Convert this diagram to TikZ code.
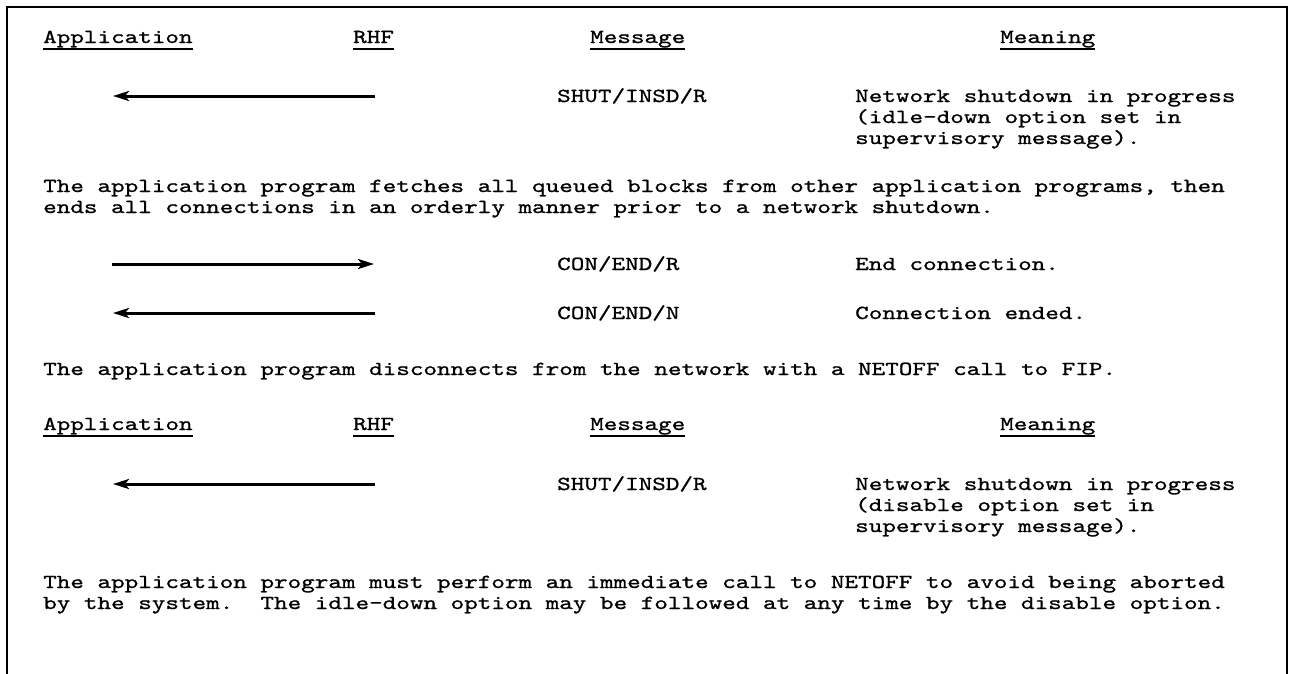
\documentclass[tikz,border=0pt]{standalone}
\usepackage{fontspec}
\usetikzlibrary{arrows.meta}
\newfontfamily\typewriter{lmmono10-regular.otf}[FakeStretch=1.3, FakeBold=1]
\newcommand\tw{\typewriter\fontsize{19.9pt}{21pt}\selectfont\frenchspacing}

\tikzstyle{frame} = [line width=2.4pt, line cap=rect]
% multi-line nodes sit on the baseline of their last line
\tikzstyle{txt} = [anchor=base west, inner sep=0pt, align=left, font=\tw]
\tikzstyle{uline} = [line width=1.8pt]
\tikzstyle{flow} = [line width=3pt, -{Stealth[length=16pt, width=10pt, inset=4pt]}]

\begin{document}
\begin{tikzpicture}[x=1pt,y=-1pt]
		\useasboundingbox (0,0) rectangle (1295,673);
		% open frame, no bottom edge
		\draw[frame] (7,673) -- (7,7) -- (1287,7) -- (1287,673);

		% column heads
		\node[txt] (app1) at (43,43) {Application};
		\node[txt] (rhf1) at (353,43) {RHF};
		\node[txt] (msg1) at (590,43) {Message};
		\node[txt] (mng1) at (1000,43) {Meaning};
		\draw[uline] ([yshift=-6pt]app1.base west) -- ([yshift=-6pt]app1.base east);
		\draw[uline] ([yshift=-6pt]rhf1.base west) -- ([yshift=-6pt]rhf1.base east);
		\draw[uline] ([yshift=-6pt]msg1.base west) -- ([yshift=-6pt]msg1.base east);
		\draw[uline] ([yshift=-6pt]mng1.base west) -- ([yshift=-6pt]mng1.base east);

		% idle-down shutdown
		\coordinate (rhf-a) at (375,96);
		\coordinate (app-a) at (113,96);
		\draw[flow] (rhf-a) -- (app-a);
		\node[txt] (shut1) at (557,102) {SHUT/INSD/R};
		\node[txt] (net1) at (855,144) {Network shutdown in progress\\(idle-down option set in\\supervisory message).};

		\node[txt] (para1) at (43,213) {The application program fetches all queued blocks from other application programs, then\\ends all connections in an orderly manner prior to a network shutdown.};

		% end connection
		\coordinate (app-b) at (112,264);
		\coordinate (rhf-b) at (374,264);
		\draw[flow] (app-b) -- (rhf-b);
		\node[txt] (conr) at (557,270) {CON/END/R};
		\node[txt] (endc) at (855,270) {End connection.};

		\coordinate (rhf-c) at (375,313);
		\coordinate (app-c) at (113,313);
		\draw[flow] (rhf-c) -- (app-c);
		\node[txt] (conn) at (557,319) {CON/END/N};
		\node[txt] (ended) at (855,319) {Connection ended.};

		\node[txt] (para2) at (43,375) {The application program disconnects from the network with a NETOFF call to FIP.};

		% second table
		\node[txt] (app2) at (43,430) {Application};
		\node[txt] (rhf2) at (353,430) {RHF};
		\node[txt] (msg2) at (590,430) {Message};
		\node[txt] (mng2) at (1000,430) {Meaning};
		\draw[uline] ([yshift=-6pt]app2.base west) -- ([yshift=-6pt]app2.base east);
		\draw[uline] ([yshift=-6pt]rhf2.base west) -- ([yshift=-6pt]rhf2.base east);
		\draw[uline] ([yshift=-6pt]msg2.base west) -- ([yshift=-6pt]msg2.base east);
		\draw[uline] ([yshift=-6pt]mng2.base west) -- ([yshift=-6pt]mng2.base east);

		% disable shutdown
		\coordinate (rhf-d) at (375,484);
		\coordinate (app-d) at (113,484);
		\draw[flow] (rhf-d) -- (app-d);
		\node[txt] (shut2) at (557,490) {SHUT/INSD/R};
		\node[txt] (net2) at (855,532) {Network shutdown in progress\\(disable option set in\\supervisory message).};

		\node[txt] (para3) at (43,609) {The application program must perform an immediate call to NETOFF to avoid being aborted\\by the system.\ \ The idle-down option may be followed at any time by the disable option.};
\end{tikzpicture}
\end{document}
